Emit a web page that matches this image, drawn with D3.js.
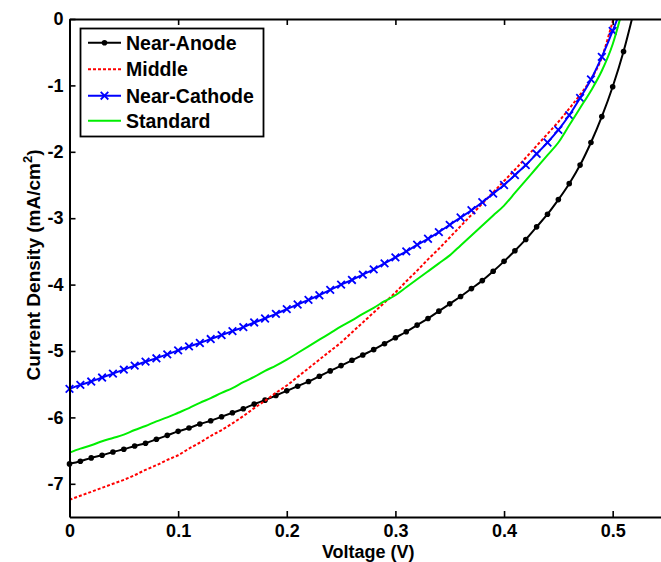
<!DOCTYPE html>
<html><head><meta charset="utf-8">
<script src="https://cdn.jsdelivr.net/npm/d3@7"></script>
<style>
body{margin:0;background:#fff}
svg{display:block}
text{font-family:"Liberation Sans",Arial,Helvetica,sans-serif;font-weight:bold;fill:#000}
</style>
</head><body>
<svg id="chart" width="661" height="562"></svg>
<script>
// ---- data ----
const voltage = [0.00,0.01,0.02,0.03,0.04,0.05,0.06,0.07,0.08,0.09,
  0.10,0.11,0.12,0.13,0.14,0.15,0.16,0.17,0.18,0.19,
  0.20,0.21,0.22,0.23,0.24,0.25,0.26,0.27,0.28,0.29,
  0.30,0.31,0.32,0.33,0.34,0.35,0.36,0.37,0.38,0.39,
  0.40,0.41,0.42,0.43,0.44,0.45,0.46,0.47,0.48,0.49,
  0.50,0.51,0.52];
const nearAnode = [-6.70,-6.66,-6.61,-6.57,-6.52,-6.48,-6.43,-6.39,-6.33,-6.27,
  -6.21,-6.16,-6.10,-6.05,-5.99,-5.93,-5.87,-5.80,-5.74,-5.67,
  -5.60,-5.53,-5.46,-5.38,-5.30,-5.22,-5.14,-5.06,-4.98,-4.89,
  -4.80,-4.71,-4.61,-4.51,-4.40,-4.29,-4.18,-4.06,-3.94,-3.80,
  -3.65,-3.49,-3.32,-3.13,-2.94,-2.72,-2.48,-2.20,-1.86,-1.47,
  -1.02,-0.49,0.15];
const middle = [-7.24,-7.18,-7.12,-7.06,-7.00,-6.94,-6.87,-6.79,-6.72,-6.64,
  -6.57,-6.47,-6.38,-6.28,-6.19,-6.09,-5.98,-5.86,-5.75,-5.63,
  -5.52,-5.39,-5.26,-5.13,-5.00,-4.87,-4.72,-4.57,-4.42,-4.27,
  -4.12,-3.95,-3.79,-3.62,-3.46,-3.29,-3.12,-2.95,-2.78,-2.61,
  -2.44,-2.27,-2.09,-1.91,-1.73,-1.55,-1.35,-1.14,-0.91,-0.58,
  -0.04,0.50];
const nearCathode = [-5.57,-5.51,-5.46,-5.40,-5.34,-5.28,-5.22,-5.16,-5.11,-5.05,
  -4.99,-4.93,-4.88,-4.82,-4.76,-4.70,-4.64,-4.57,-4.51,-4.44,
  -4.37,-4.30,-4.23,-4.16,-4.08,-4.00,-3.93,-3.85,-3.77,-3.68,
  -3.59,-3.50,-3.40,-3.31,-3.21,-3.10,-2.99,-2.88,-2.76,-2.63,
  -2.50,-2.35,-2.20,-2.03,-1.86,-1.67,-1.45,-1.19,-0.91,-0.57,
  -0.18,0.25];
const standard = [-6.53,-6.47,-6.42,-6.36,-6.31,-6.26,-6.19,-6.13,-6.06,-6.00,
  -5.93,-5.86,-5.78,-5.71,-5.63,-5.56,-5.47,-5.39,-5.30,-5.22,
  -5.13,-5.03,-4.93,-4.83,-4.73,-4.63,-4.54,-4.44,-4.35,-4.25,
  -4.16,-4.04,-3.92,-3.80,-3.68,-3.56,-3.41,-3.26,-3.11,-2.96,
  -2.81,-2.62,-2.43,-2.24,-2.05,-1.86,-1.60,-1.34,-1.08,-0.78,
  -0.38,0.20];
const seriesNames = ["Near-Anode","Middle","Near-Cathode","Standard"];
const xTicks = [0,0.1,0.2,0.3,0.4,0.5];
const yTicks = [-7,-6,-5,-4,-3,-2,-1,0];
const xDomain = [0,0.55];
const yDomain = [-7.5,0];

// ---- layout ----
const L = 69.5, R = 667, T = 19, B = 517;
const svg = d3.select("#chart");
const x = d3.scaleLinear(xDomain,[L,R]);
const y = d3.scaleLinear(yDomain,[B,T]);

svg.append("defs").append("clipPath").attr("id","plotclip")
  .append("rect").attr("x",L-10).attr("y",T).attr("width",R-L+20).attr("height",B-T+10);

const series = [
  {name:seriesNames[0], vals:nearAnode, color:"#000000", dash:null, marker:"dot"},
  {name:seriesNames[1], vals:middle, color:"#ff0000", dash:"3,2", marker:null},
  {name:seriesNames[2], vals:nearCathode, color:"#0000ff", dash:null, marker:"x"},
  {name:seriesNames[3], vals:standard, color:"#00ee00", dash:null, marker:null}
];

const line = d3.line().x(d=>x(d[0])).y(d=>y(d[1])).curve(d3.curveMonotoneX);
const plot = svg.append("g").attr("clip-path","url(#plotclip)");

series.forEach(s=>{
  const pts = s.vals.map((v,i)=>[voltage[i],v]);
  plot.append("path").datum(pts)
    .attr("d",line).attr("fill","none")
    .attr("stroke",s.color).attr("stroke-width",2)
    .attr("stroke-dasharray",s.dash);
  const mpts = pts.filter(p=>p[1]<=0);
  if(s.marker==="dot"){
    plot.selectAll(null).data(mpts).enter().append("circle")
      .attr("cx",d=>x(d[0])).attr("cy",d=>y(d[1])).attr("r",2.8).attr("fill",s.color);
  } else if(s.marker==="x"){
    plot.selectAll(null).data(mpts).enter().append("path")
      .attr("d",d=>{const cx=x(d[0]),cy=y(d[1]),r=3.8;return `M${cx-r},${cy-r}L${cx+r},${cy+r}M${cx-r},${cy+r}L${cx+r},${cy-r}`;})
      .attr("stroke",s.color).attr("stroke-width",1.8).attr("fill","none");
  }
});

// ---- axes ----
function styleAxis(g){
  g.selectAll("path.domain").attr("stroke","#000").attr("stroke-width",2);
  g.selectAll(".tick line").attr("stroke","#000").attr("stroke-width",1.6);
  g.selectAll(".tick text").style("font-size","18px").style("font-weight","bold")
    .style("font-family",'"Liberation Sans",Arial,sans-serif').attr("fill","#000");
}
const fmtX = d => d===0 ? "0" : d3.format(".1f")(d);
const fmtY = d => String(d);

svg.append("g").attr("transform",`translate(0,${B})`)
  .call(d3.axisBottom(x).tickValues(xTicks).tickFormat(fmtX).tickSizeInner(-6).tickSizeOuter(0).tickPadding(7.5))
  .call(styleAxis);
svg.append("g").attr("transform",`translate(0,${T})`)
  .call(d3.axisTop(x).tickValues(xTicks).tickFormat("").tickSizeInner(-6).tickSizeOuter(0))
  .call(styleAxis);
svg.append("g").attr("transform",`translate(${L},0)`)
  .call(d3.axisLeft(y).tickValues(yTicks).tickFormat(fmtY).tickSizeInner(-6).tickSizeOuter(0).tickPadding(6))
  .call(styleAxis);
svg.append("g").attr("transform",`translate(${R},0)`)
  .call(d3.axisRight(y).tickValues(yTicks).tickFormat("").tickSizeInner(-6).tickSizeOuter(0))
  .call(styleAxis);

// axis titles
svg.append("text").attr("x",(L+R)/2).attr("y",557.5).attr("text-anchor","middle")
  .style("font-size","18px").text("Voltage (V)");
const yl = svg.append("text").attr("transform",`translate(40,${(T+B)/2 - 3}) rotate(-90)`)
  .attr("text-anchor","middle").style("font-size","19px");
yl.append("tspan").text("Current Density (mA/cm");
yl.append("tspan").attr("dy",-8).style("font-size","13px").text("2");
yl.append("tspan").attr("dy",8).text(")");

// ---- legend ----
const lg = svg.append("g");
const lgX = 80.5, lgY = 28.5, lgW = 183, lgH = 108;
lg.append("rect").attr("x",lgX).attr("y",lgY).attr("width",lgW).attr("height",lgH)
  .attr("fill","#fff").attr("stroke","#000").attr("stroke-width",1.8);
const rowY = [42.7,69.3,95.7,120.7];
series.forEach((s,i)=>{
  const yy = rowY[i];
  lg.append("line").attr("x1",88).attr("x2",121).attr("y1",yy).attr("y2",yy)
    .attr("stroke",s.color).attr("stroke-width",2).attr("stroke-dasharray",s.dash);
  if(s.marker==="dot") lg.append("circle").attr("cx",104.5).attr("cy",yy).attr("r",2.8).attr("fill",s.color);
  if(s.marker==="x"){const r=3.8,cx=104.5;
    lg.append("path").attr("d",`M${cx-r},${yy-r}L${cx+r},${yy+r}M${cx-r},${yy+r}L${cx+r},${yy-r}`)
      .attr("stroke",s.color).attr("stroke-width",1.8);}
  lg.append("text").attr("x",126).attr("y",yy+7).style("font-size","19.5px").text(s.name);
});
</script>
</body></html>
